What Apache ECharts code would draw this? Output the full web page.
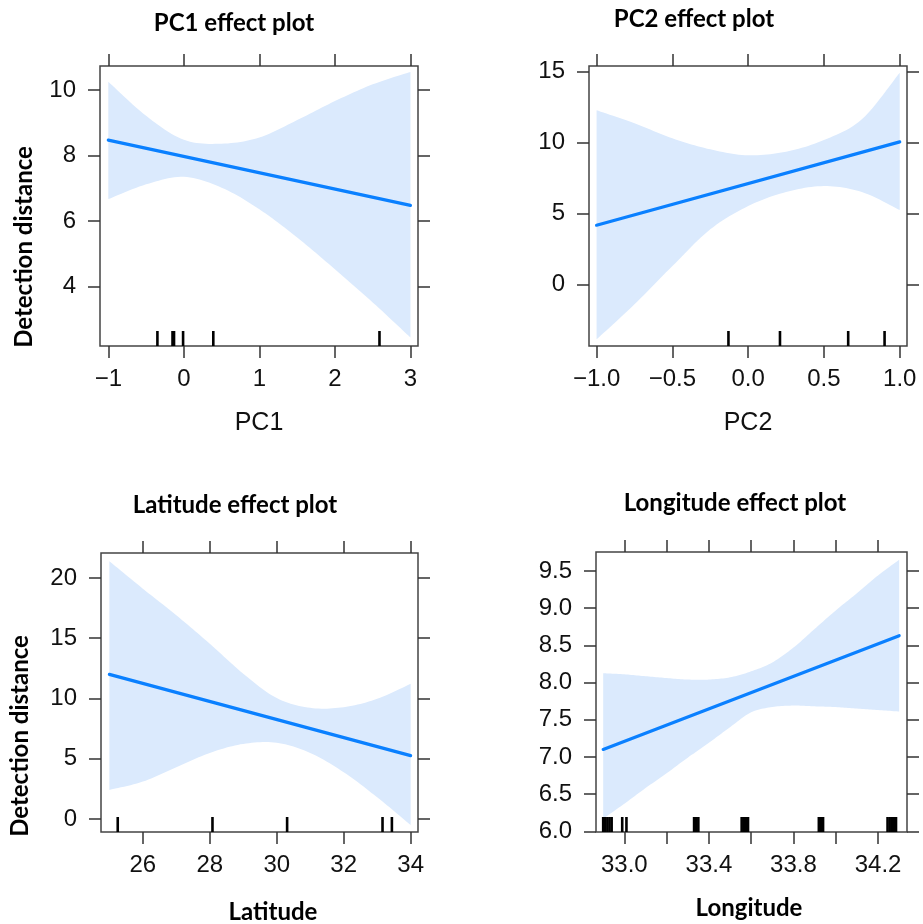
<!DOCTYPE html>
<html>
<head>
<meta charset="utf-8">
<script src="https://cdn.jsdelivr.net/npm/echarts@6/dist/echarts.min.js"></script>
<style>html,body{margin:0;padding:0;background:#fff}#c{width:923px;height:924px}</style>
</head>
<body>
<div id="c"></div>
<script>
// ---------- PC1 ----------
const pc1BandX = [-1, -0.5, 0, 0.5, 1, 1.5, 2, 2.5, 3];
const pc1Upper = [10.25, 9.21, 8.48, 8.36, 8.55, 9.08, 9.66, 10.17, 10.55];
const pc1Lower = [6.67, 7.12, 7.35, 7.02, 6.36, 5.50, 4.53, 3.52, 2.45];
const pc1FitX = [-1, 3];
const pc1Fit = [8.47, 6.48];
const pc1Rug = [-0.35, -0.15, -0.13, -0.01, 0.39, 2.59];
const pc1XTicks = [-1, 0, 1, 2, 3];
const pc1YTicks = [4, 6, 8, 10];

// ---------- PC2 ----------
const pc2BandX = [-1, -0.75, -0.5, -0.25, 0, 0.25, 0.5, 0.75, 1];
const pc2Upper = [12.28, 11.36, 10.30, 9.52, 9.10, 9.36, 10.18, 11.64, 14.93];
const pc2Lower = [-3.88, -1.41, 1.29, 3.88, 5.52, 6.51, 6.93, 6.51, 5.24];
const pc2FitX = [-1, 1];
const pc2Fit = [4.17, 10.05];
const pc2Rug = [-0.13, 0.21, 0.66, 0.90];
const pc2XTicks = [-1, -0.5, 0, 0.5, 1];
const pc2YTicks = [0, 5, 10, 15];

// ---------- Latitude ----------
const latBandX = [25, 26, 27, 28, 29, 30, 31, 32, 33, 34];
const latUpper = [21.39, 19.11, 16.90, 14.54, 12.05, 10.03, 9.22, 9.28, 9.97, 11.22];
const latLower = [2.41, 3.10, 4.29, 5.48, 6.23, 6.32, 5.48, 3.88, 1.80, -0.50];
const latFitX = [25, 34];
const latFit = [12.0, 5.26];
const latRug = [25.25, 28.08, 30.31, 33.16, 33.44];
const latXTicks = [26, 28, 30, 32, 34];
const latYTicks = [0, 5, 10, 15, 20];

// ---------- Longitude ----------
const lonBandX = [32.9, 33.0, 33.1, 33.2, 33.3, 33.4, 33.5, 33.6, 33.7, 33.8, 33.9, 34.0, 34.1, 34.2, 34.3];
const lonUpper = [8.125, 8.11, 8.085, 8.06, 8.04, 8.04, 8.07, 8.15, 8.27, 8.47, 8.72, 8.97, 9.20, 9.44, 9.65];
const lonLower = [6.17, 6.37, 6.58, 6.78, 6.99, 7.19, 7.40, 7.60, 7.67, 7.69, 7.68, 7.67, 7.65, 7.63, 7.61];
const lonFitX = [32.9, 34.3];
const lonFit = [7.10, 8.63];
const lonRug = [32.90, 32.91, 32.92, 32.93, 32.94, 32.99, 33.01, 33.33, 33.34, 33.35, 33.555, 33.565, 33.575, 33.585,
                33.92, 33.93, 33.94, 34.245, 34.255, 34.265, 34.275, 34.285];
const lonXTicks = [33.0, 33.2, 33.4, 33.6, 33.8, 34.0, 34.2];
const lonXLabels = [33.0, 33.4, 33.8, 34.2];
const lonYTicks = [6.0, 6.5, 7.0, 7.5, 8.0, 8.5, 9.0, 9.5];

// ---------- text ----------
const titles = ['PC1 effect plot', 'PC2 effect plot', 'Latitude effect plot', 'Longitude effect plot'];
const xNames = ['PC1', 'PC2', 'Latitude', 'Longitude'];
const yName = 'Detection distance';

// ---------- styling / layout ----------
const BAND = '#dbeafd';
const LINE = '#0a80ff';
const TXT = '#111111';
const TICK = '#333333';
const NUMFONT = 'Liberation Sans, Arial, sans-serif';
const BOLDFONT = 'Lato, "Open Sans", sans-serif';
const MINUS = '\u2212';
function fmt(d) { return function (v) { return (d ? Number(v).toFixed(d) : String(Math.round(v))).replace('-', MINUS); }; }

// smooth rendering of an edge through pixel points (Catmull-Rom), like smooth:true on a line
function smoothPts(pts, n) {
  const out = [];
  for (let i = 0; i < pts.length - 1; i++) {
    const p0 = pts[Math.max(i - 1, 0)], p1 = pts[i], p2 = pts[i + 1], p3 = pts[Math.min(i + 2, pts.length - 1)];
    for (let s = 0; s < n; s++) {
      const t = s / n, t2 = t * t, t3 = t2 * t;
      const f = function (a, b, c, d) {
        return 0.5 * (2 * b + (-a + c) * t + (2 * a - 5 * b + 4 * c - d) * t2 + (-a + 3 * b - 3 * c + d) * t3);
      };
      out.push([f(p0[0], p1[0], p2[0], p3[0]), f(p0[1], p1[1], p2[1], p3[1])]);
    }
  }
  out.push(pts[pts.length - 1]);
  return out;
}

const panels = [
  { box: [100, 66, 318, 280], x: [-1.11, 3.10], y: [2.19, 10.73], xTicks: pc1XTicks, xLabels: pc1XTicks, yTicks: pc1YTicks, xd: 0, yd: 0,
    bandX: pc1BandX, upper: pc1Upper, lower: pc1Lower, fitX: pc1FitX, fit: pc1Fit, rug: pc1Rug },
  { box: [589, 66, 318, 280], x: [-1.05, 1.048], y: [-4.35, 15.4], xTicks: pc2XTicks, xLabels: pc2XTicks, yTicks: pc2YTicks, xd: 1, yd: 0,
    bandX: pc2BandX, upper: pc2Upper, lower: pc2Lower, fitX: pc2FitX, fit: pc2Fit, rug: pc2Rug },
  { box: [101, 553, 317, 279], x: [24.75, 34.22], y: [-1.08, 22.07], xTicks: latXTicks, xLabels: latXTicks, yTicks: latYTicks, xd: 0, yd: 0,
    bandX: latBandX, upper: latUpper, lower: latLower, fitX: latFitX, fit: latFit, rug: latRug },
  { box: [596, 552, 311, 280], x: [32.866, 34.337], y: [5.99, 9.755], xTicks: lonXTicks, xLabels: lonXLabels, yTicks: lonYTicks, xd: 1, yd: 1,
    bandX: lonBandX, upper: lonUpper, lower: lonLower, fitX: lonFitX, fit: lonFit, rug: lonRug }
];

const grid = [], xAxis = [], yAxis = [], series = [];
const tickStyle = { color: TICK, width: 1.5 };
const labelStyle = { fontSize: 24, fontFamily: NUMFONT, color: TXT };

panels.forEach(function (p, i) {
  grid.push({ left: p.box[0], top: p.box[1], width: p.box[2], height: p.box[3], show: true,
    borderColor: '#444444', borderWidth: 1.5, backgroundColor: 'transparent', outerBoundsMode: 'none', containLabel: false });
  ['bottom', 'top'].forEach(function (pos) {
    xAxis.push({ gridIndex: i, type: 'value', min: p.x[0], max: p.x[1], position: pos,
      axisLine: { show: false, onZero: false }, splitLine: { show: false },
      axisTick: { show: true, inside: false, length: 12, lineStyle: tickStyle, customValues: p.xTicks },
      axisLabel: Object.assign({ show: pos === 'bottom', margin: 21, customValues: p.xLabels, formatter: fmt(p.xd) }, labelStyle) });
  });
  ['left', 'right'].forEach(function (pos) {
    yAxis.push({ gridIndex: i, type: 'value', min: p.y[0], max: p.y[1], position: pos,
      axisLine: { show: false, onZero: false }, splitLine: { show: false },
      axisTick: { show: true, inside: false, length: 12, lineStyle: tickStyle, customValues: p.yTicks },
      axisLabel: Object.assign({ show: pos === 'left', margin: 24, customValues: p.yTicks, formatter: fmt(p.yd) }, labelStyle) });
  });
  const xi = i * 2, yi = i * 2;
  series.push({
    type: 'custom', xAxisIndex: xi, yAxisIndex: yi, silent: true, z: 1,
    data: p.bandX.map(function (x, k) { return [x, p.lower[k], p.upper[k]]; }),
    encode: { x: 0, y: [1, 2] },
    renderItem: function (params, api) {
      if (params.dataIndex !== 0) return null;
      const up = [], lo = [];
      for (let k = 0; k < p.bandX.length; k++) {
        up.push(api.coord([p.bandX[k], p.upper[k]]));
        lo.push(api.coord([p.bandX[k], p.lower[k]]));
      }
      const pts = smoothPts(up, 12).concat(smoothPts(lo, 12).reverse());
      return { type: 'polygon', shape: { points: pts }, style: { fill: BAND, stroke: null } };
    }
  });
  series.push({
    type: 'line', xAxisIndex: xi, yAxisIndex: yi, silent: true, z: 3, showSymbol: false, symbol: 'none',
    data: p.fitX.map(function (x, k) { return [x, p.fit[k]]; }),
    lineStyle: { color: LINE, width: 3.2, cap: 'round' }
  });
  series.push({
    type: 'custom', xAxisIndex: xi, yAxisIndex: yi, silent: true, z: 4,
    data: p.rug.map(function (v) { return [v, p.y[0]]; }),
    encode: { x: 0, y: 1 },
    renderItem: function (params, api) {
      const pt = api.coord([api.value(0), api.value(1)]);
      return { type: 'line', shape: { x1: pt[0], y1: pt[1], x2: pt[0], y2: pt[1] - 15 },
        style: { stroke: '#000', lineWidth: 2.6 } };
    }
  });
});

const graphic = [];
const titlePos = [[234, 23], [694, 19], [235, 505], [735, 503]];
titles.forEach(function (t, i) {
  graphic.push({ type: 'text', x: titlePos[i][0], y: titlePos[i][1], silent: true,
    style: { text: t, align: 'center', verticalAlign: 'middle', font: 'bold 24px ' + BOLDFONT, fill: '#000' } });
});
[[24, 247], [20, 736]].forEach(function (pos) {
  graphic.push({ type: 'text', x: pos[0], y: pos[1], rotation: Math.PI / 2, silent: true,
    style: { text: yName, align: 'center', verticalAlign: 'middle', font: 'bold 24px ' + BOLDFONT, fill: '#000' } });
});
const xNamePos = [[259, 423], [748, 423], [273, 912], [749, 908]];
xNames.forEach(function (t, i) {
  const bold = i >= 2;
  graphic.push({ type: 'text', x: xNamePos[i][0], y: xNamePos[i][1], silent: true,
    style: { text: t, align: 'center', verticalAlign: 'middle',
      font: bold ? ('bold 24px ' + BOLDFONT) : ('25px ' + NUMFONT), fill: bold ? '#000' : TXT } });
});

const chart = echarts.init(document.getElementById('c'), null, { renderer: 'canvas' });
chart.setOption({
  backgroundColor: '#ffffff',
  animation: false,
  grid: grid, xAxis: xAxis, yAxis: yAxis, series: series, graphic: graphic
});
</script>
</body>
</html>
